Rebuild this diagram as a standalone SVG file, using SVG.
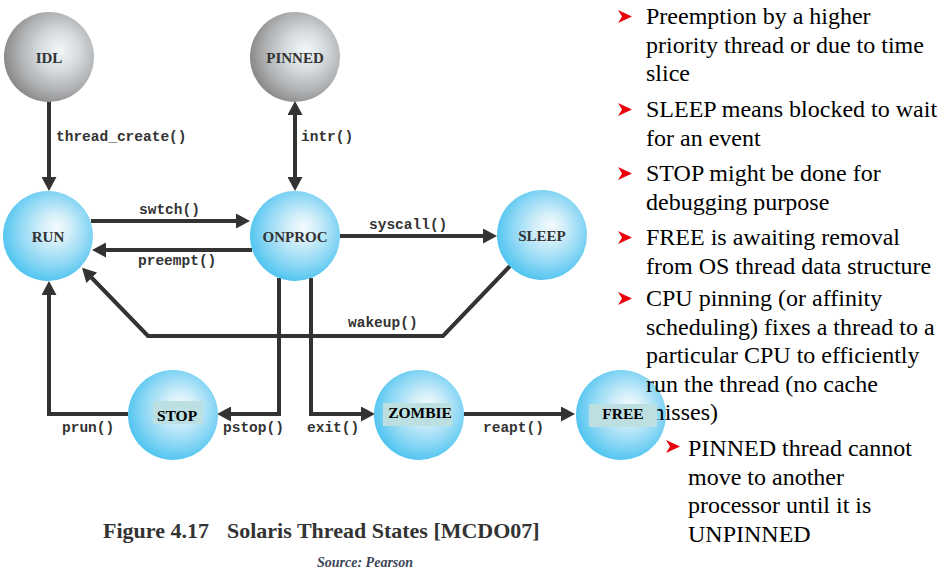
<svg xmlns="http://www.w3.org/2000/svg" width="941" height="580" viewBox="0 0 941 580">
<style>
.lbl{font-family:"Liberation Mono","Courier New",monospace;font-weight:bold;font-size:14.5px;fill:#333}
.node{font-family:"Liberation Serif","Times New Roman",serif;font-weight:bold;font-size:15px;fill:#333;text-anchor:middle}
.nodek{font-family:"Liberation Serif","Times New Roman",serif;font-weight:bold;font-size:15.5px;fill:#000;text-anchor:middle}
.conn{fill:none;stroke:#333;stroke-width:4}
.txt{font-family:"Liberation Serif","Times New Roman",serif;font-size:24px;fill:#000}
.bul{fill:#e8000b}
.cap{font-family:"Liberation Serif","Times New Roman",serif;font-weight:bold;font-size:22px;fill:#333}
.src{font-family:"Liberation Serif","Times New Roman",serif;font-weight:bold;font-style:italic;font-size:14px;fill:#3b4556}
.tag{fill:#bcdfe2}
</style>
<defs>
<radialGradient id="gb" cx="0.55" cy="0.45" r="0.55" fx="0.6" fy="0.4">
<stop offset="0" stop-color="#f4fbfe"/>
<stop offset="0.3" stop-color="#d2eef9"/>
<stop offset="0.7" stop-color="#8fd8f5"/>
<stop offset="1" stop-color="#55c6f0"/>
</radialGradient>
<radialGradient id="gg" cx="0.6" cy="0.45" r="0.62" fx="0.62" fy="0.42">
<stop offset="0" stop-color="#f2f6f8"/>
<stop offset="0.35" stop-color="#d6dcdf"/>
<stop offset="0.7" stop-color="#b0b2b4"/>
<stop offset="1" stop-color="#858585"/>
</radialGradient>
<marker id="ah" markerUnits="userSpaceOnUse" markerWidth="14" markerHeight="15" refX="4" refY="7.5" orient="auto-start-reverse" viewBox="0 0 14 15">
<path d="M0,0 L14,7.5 L0,15 z" fill="#333"/>
</marker>
</defs>
<rect width="941" height="580" fill="#fff"/>

<g id="connectors">
<path class="conn" d="M49 101 V181" marker-end="url(#ah)"/>
<path class="conn" d="M295 111 V181" marker-start="url(#ah)" marker-end="url(#ah)"/>
<path class="conn" d="M91 221 H240" marker-end="url(#ah)"/>
<path class="conn" d="M252 250 H102" marker-end="url(#ah)"/>
<path class="conn" d="M340 236 H487" marker-end="url(#ah)"/>
<path class="conn" d="M510 266 L443 336 H148 L89 275" marker-end="url(#ah)"/>
<path class="conn" d="M128 414 H49 V291" marker-end="url(#ah)"/>
<path class="conn" d="M279 278 V414 H227" marker-end="url(#ah)"/>
<path class="conn" d="M311 278 V414 H365" marker-end="url(#ah)"/>
<path class="conn" d="M464 414 H565" marker-end="url(#ah)"/>
<text class="lbl" x="56" y="141">thread_create()</text>
<text class="lbl" x="301" y="141">intr()</text>
<text class="lbl" x="139" y="214">swtch()</text>
<text class="lbl" x="138" y="265">preempt()</text>
<text class="lbl" x="369" y="229">syscall()</text>
<text class="lbl" x="348" y="327">wakeup()</text>
<text class="lbl" x="62" y="432">prun()</text>
<text class="lbl" x="223" y="432">pstop()</text>
<text class="lbl" x="307" y="432">exit()</text>
<text class="lbl" x="483" y="432">reapt()</text>
</g>

<g id="IDL"><circle cx="49" cy="57" r="45" fill="url(#gg)"/><text class="node" x="49" y="63">IDL</text></g>
<g id="PINNED"><circle cx="295" cy="57" r="45" fill="url(#gg)"/><text class="node" x="295" y="63" font-size="14.5">PINNED</text></g>
<g id="RUN"><circle cx="48" cy="236" r="45" fill="url(#gb)"/><text class="node" x="48" y="242">RUN</text></g>
<g id="ONPROC"><circle cx="295" cy="236" r="45" fill="url(#gb)"/><text class="node" x="295" y="242">ONPROC</text></g>
<g id="SLEEP"><circle cx="542" cy="235" r="45" fill="url(#gb)"/><text class="node" x="542" y="241">SLEEP</text></g>
<g id="STOP"><circle cx="173" cy="415" r="45" fill="url(#gb)"/><rect class="tag" x="153" y="401" width="50" height="23"/><text class="nodek" x="177" y="421">STOP</text></g>
<g id="ZOMBIE"><circle cx="419" cy="415" r="45" fill="url(#gb)"/><rect class="tag" x="383" y="403" width="69" height="23"/><text class="nodek" x="420" y="418">ZOMBIE</text></g>
<g id="FREE"><circle cx="621" cy="415" r="45" fill="url(#gb)"/></g>

<g id="notes">
<polygon class="bul" points="618,10 632,16.5 618,23 622,16.5"/>
<text class="txt" x="646" y="24">Preemption by a higher</text>
<text class="txt" x="646" y="52.5">priority thread or due to time</text>
<text class="txt" x="646" y="81">slice</text>
<polygon class="bul" points="618,103 632,109.5 618,116 622,109.5"/>
<text class="txt" x="646" y="117">SLEEP means blocked to wait</text>
<text class="txt" x="646" y="145.5">for an event</text>
<polygon class="bul" points="618,167 632,173.5 618,180 622,173.5"/>
<text class="txt" x="646" y="181">STOP might be done for</text>
<text class="txt" x="646" y="209.5">debugging purpose</text>
<polygon class="bul" points="618,231 632,237.5 618,244 622,237.5"/>
<text class="txt" x="646" y="245">FREE is awaiting removal</text>
<text class="txt" x="646" y="273.5">from OS thread data structure</text>
<polygon class="bul" points="618,292 632,298.5 618,305 622,298.5"/>
<text class="txt" x="646" y="306">CPU pinning (or affinity</text>
<text class="txt" x="646" y="334.5">scheduling) fixes a thread to a</text>
<text class="txt" x="646" y="363">particular CPU to efficiently</text>
<text class="txt" x="646" y="391.5">run the thread (no cache</text>
<text class="txt" x="646" y="420">misses)</text>
<polygon class="bul" points="666,440 680,446.5 666,453 670,446.5"/>
<text class="txt" x="688" y="456">PINNED thread cannot</text>
<text class="txt" x="688" y="484.5">move to another</text>
<text class="txt" x="688" y="513">processor until it is</text>
<text class="txt" x="688" y="541.5">UNPINNED</text>
</g>

<g id="FREE-label"><rect class="tag" x="589" y="404" width="68" height="23"/><text class="nodek" x="623" y="419">FREE</text></g>

<g id="caption">
<text class="cap" x="103" y="538">Figure 4.17</text>
<text class="cap" x="227" y="538">Solaris Thread States [MCDO07]</text>
<text class="src" x="317" y="567">Source: Pearson</text>
</g>
</svg>
